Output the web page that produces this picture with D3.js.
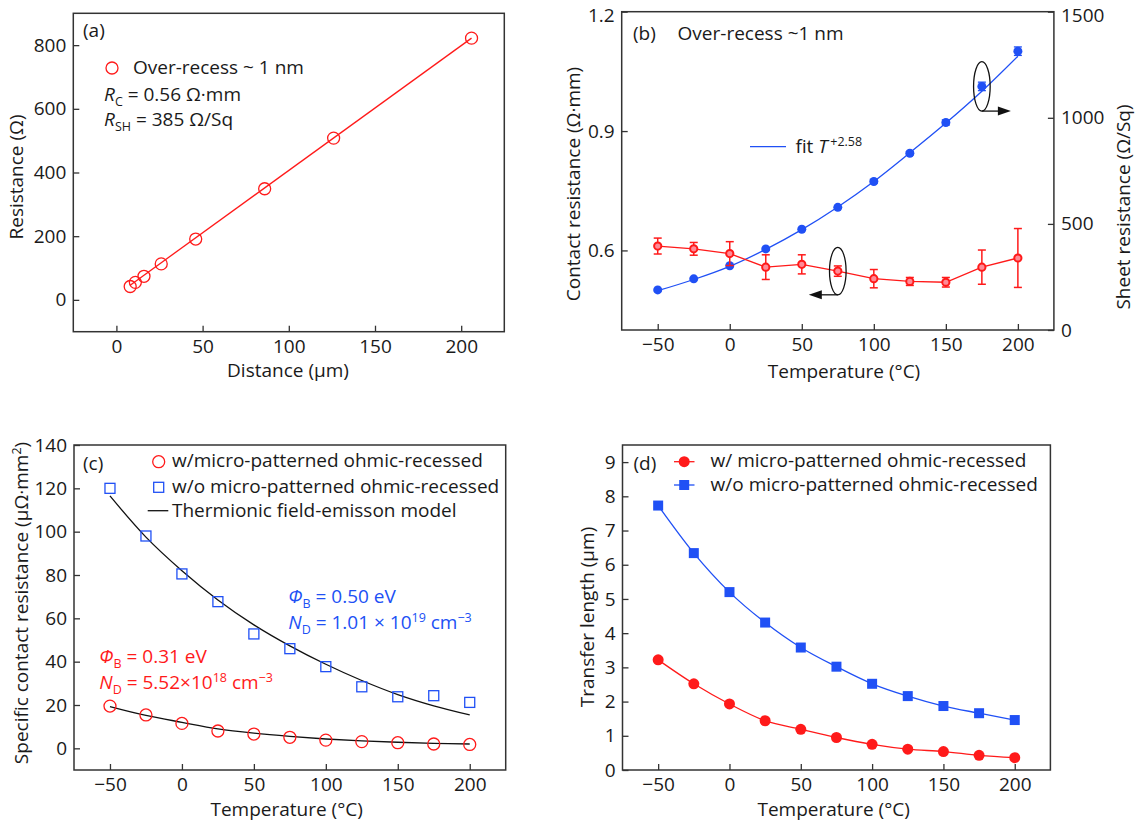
<!DOCTYPE html>
<html>
<head>
<meta charset="utf-8">
<script src="https://cdn.jsdelivr.net/npm/d3@7"></script>
<style>
  body { margin: 0; background: #fff; }
  svg text { font-family: "Open Sans", "Noto Sans", sans-serif; fill: #1a1a1a; }
</style>
</head>
<body>
<svg id="fig" width="1136" height="825"></svg>
<script>
// ---- data ----
var tempC = [-50, -25, 0, 25, 50, 75, 100, 125, 150, 175, 200];

// (a) TLM
var distA = [8, 11, 16, 26, 46, 86, 126, 206];
var resA = [42, 55, 74, 113, 191, 349, 508, 822];
var fitDistA = [8, 206];
var fitResA = [46, 822];

// (b)
var rcB = [0.611, 0.604, 0.592, 0.558, 0.565, 0.548, 0.529, 0.522, 0.520, 0.558, 0.581];
var rcErrB = [0.020, 0.016, 0.030, 0.031, 0.024, 0.013, 0.023, 0.010, 0.012, 0.043, 0.074];
var rshB = [189, 241, 303, 382, 475, 578, 700, 833, 978, 1148, 1314];
var rshErrB = [0, 0, 0, 0, 0, 0, 8, 8, 12, 20, 20];
var rshFitB = [185, 238, 300, 380, 473, 580, 700, 835, 975, 1125, 1290];

// (c)
var rhoW = [19.5, 15.4, 11.5, 8.0, 6.6, 5.1, 3.8, 3.1, 2.6, 2.0, 1.8];
var rhoWo = [120, 98, 80.5, 67.7, 52.8, 46, 37.7, 28.4, 23.8, 24.3, 21.2];
var modelW = [19.3, 15.2, 12, 9, 7, 5.5, 4.3, 3.4, 2.8, 2.3, 2.0];
var modelWo = [116.5, 97.5, 82, 68.5, 57, 47.3, 38.8, 31.3, 24.8, 19.6, 15.4];

// (d)
var ltW = [3.22, 2.52, 1.93, 1.44, 1.19, 0.95, 0.75, 0.61, 0.54, 0.43, 0.36];
var ltWo = [7.73, 6.34, 5.20, 4.31, 3.58, 3.02, 2.52, 2.16, 1.87, 1.66, 1.46];

var tempTicks = [-50, 0, 50, 100, 150, 200];

var RED = "#ff1a1a", BLUE = "#2050f5", INK = "#1a1a1a";
var FS = 19;

var svg = d3.select("#fig");

// rich text: parts = [[string, kind]] kind: "" | "i" | "sub" | "sup"
function rich(g, x, y, parts, color, anchor) {
  var t = g.append("text").attr("x", x).attr("y", y)
    .attr("font-size", FS).attr("text-anchor", anchor || "start");
  if (color) t.style("fill", color);
  var shift = 0, prev = "";
  parts.forEach(function(p) {
    var kind = p[1] || "";
    var target = kind === "sub" ? 4.5 : kind === "sup" ? -7.5 : 0;
    var ts = t.append("tspan").attr("dy", target - shift).text(p[0]);
    if (prev === "i" && kind === "sup") ts.attr("dx", 2.5);
    shift = target;
    prev = kind;
    if (kind === "sub" || kind === "sup") ts.attr("font-size", 12.5);
    if (kind === "i") ts.attr("font-style", "italic");
  });
  return t;
}

function frame(box) {
  svg.append("rect").attr("x", box.l).attr("y", box.t)
    .attr("width", box.r - box.l).attr("height", box.b - box.t)
    .attr("fill", "none").attr("stroke", "#333").attr("stroke-width", 1.5);
}

function styleAxis(g) {
  g.select(".domain").remove();
  g.selectAll(".tick line").attr("stroke", "#333").attr("stroke-width", 1.3);
  g.selectAll(".tick text").attr("font-size", FS).style("fill", INK)
    .attr("font-family", "'Open Sans', sans-serif");
}

function xAxis(box, x, ticks) {
  svg.append("g").attr("transform", "translate(0," + box.b + ")")
    .call(d3.axisBottom(x).tickValues(ticks).tickSizeInner(-6).tickSizeOuter(0).tickPadding(8))
    .call(styleAxis);
}
function yAxis(box, y, ticks, fmt) {
  var ax = d3.axisLeft(y).tickValues(ticks).tickSizeInner(-6).tickSizeOuter(0).tickPadding(7);
  if (fmt) ax.tickFormat(fmt);
  var g = svg.append("g").attr("transform", "translate(" + box.l + ",0)").call(ax).call(styleAxis);
  return g;
}
function yLabel(cx, cy, parts) {
  var g = svg.append("g").attr("transform", "translate(" + cx + "," + cy + ") rotate(-90)");
  rich(g, 0, 0, parts, INK, "middle");
}

// ================= (a) =================
(function() {
  var box = {l: 73.3, r: 504.3, t: 13.3, b: 331.7};
  var x = d3.scaleLinear().domain([-25, 225]).range([box.l, box.r]);
  var y = d3.scaleLinear().domain([-100, 900]).range([box.b, box.t]);
  frame(box);
  xAxis(box, x, [0, 50, 100, 150, 200]);
  yAxis(box, y, [0, 200, 400, 600, 800]);

  svg.append("path").datum(d3.zip(fitDistA, fitResA))
    .attr("d", d3.line().x(function(d) { return x(d[0]); }).y(function(d) { return y(d[1]); }))
    .attr("fill", "none").attr("stroke", RED).attr("stroke-width", 1.3);
  svg.append("g").selectAll("circle").data(d3.zip(distA, resA)).enter().append("circle")
    .attr("cx", function(d) { return x(d[0]); }).attr("cy", function(d) { return y(d[1]); })
    .attr("r", 6).attr("fill", "none").attr("stroke", RED).attr("stroke-width", 1.3);

  rich(svg, 83, 37, [["(a)"]]);
  svg.append("circle").attr("cx", 112).attr("cy", 68).attr("r", 6)
    .attr("fill", "none").attr("stroke", RED).attr("stroke-width", 1.3);
  rich(svg, 133, 74, [["Over-recess ~ 1 nm"]]);
  rich(svg, 104, 101, [["R", "i"], ["C", "sub"], [" = 0.56 Ω·mm"]]);
  rich(svg, 104, 126, [["R", "i"], ["SH", "sub"], [" = 385 Ω/Sq"]]);

  yLabel(23, 177, [["Resistance (Ω)"]]);
  rich(svg, 288, 377, [["Distance  (µm)"]], INK, "middle");
})();

// ================= (b) =================
(function() {
  var box = {l: 621.7, r: 1053.9, t: 11.7, b: 330};
  var x = d3.scaleLinear().domain([-75, 225]).range([box.l, box.r]);
  var yL = d3.scaleLinear().domain([0.4, 1.2]).range([box.b, box.t]);
  var yR = d3.scaleLinear().domain([0, 1500]).range([box.b, box.t]);
  frame(box);
  xAxis(box, x, tempTicks);
  var gl = yAxis(box, yL, [0.6, 0.9, 1.2], d3.format(".1f"));
  var grt = svg.append("g").attr("transform", "translate(" + box.r + ",0)")
    .call(d3.axisRight(yR).tickValues([0, 500, 1000, 1500]).tickFormat(d3.format("d"))
      .tickSizeInner(-6).tickSizeOuter(0).tickPadding(7))
    .call(styleAxis);
  // keep the top labels inside the page
  gl.selectAll(".tick text").filter(function(d) { return d === 1.2; }).attr("dy", "0.5em");
  grt.selectAll(".tick text").filter(function(d) { return d === 1500; }).attr("dy", "0.5em");

  // blue: sheet resistance with fit
  svg.append("path").datum(d3.zip(tempC, rshFitB))
    .attr("d", d3.line().curve(d3.curveCatmullRom).x(function(d) { return x(d[0]); }).y(function(d) { return yR(d[1]); }))
    .attr("fill", "none").attr("stroke", BLUE).attr("stroke-width", 1.3);
  var bd = tempC.map(function(t, i) { return {t: t, v: rshB[i], e: rshErrB[i]}; });
  var gb = svg.append("g").attr("stroke", BLUE).attr("stroke-width", 1.3);
  bd.filter(function(d) { return d.e > 0; }).forEach(function(d) {
    var cx = x(d.t), y0 = yR(d.v - d.e), y1 = yR(d.v + d.e);
    gb.append("line").attr("x1", cx).attr("x2", cx).attr("y1", y0).attr("y2", y1);
    gb.append("line").attr("x1", cx - 4).attr("x2", cx + 4).attr("y1", y0).attr("y2", y0);
    gb.append("line").attr("x1", cx - 4).attr("x2", cx + 4).attr("y1", y1).attr("y2", y1);
  });
  svg.append("g").selectAll("circle").data(bd).enter().append("circle")
    .attr("cx", function(d) { return x(d.t); }).attr("cy", function(d) { return yR(d.v); })
    .attr("r", 4.5).attr("fill", BLUE);

  // red: contact resistance
  svg.append("path").datum(d3.zip(tempC, rcB))
    .attr("d", d3.line().x(function(d) { return x(d[0]); }).y(function(d) { return yL(d[1]); }))
    .attr("fill", "none").attr("stroke", RED).attr("stroke-width", 1.3);
  var rd = tempC.map(function(t, i) { return {t: t, v: rcB[i], e: rcErrB[i]}; });
  var gr = svg.append("g").attr("stroke", RED).attr("stroke-width", 1.5);
  rd.forEach(function(d) {
    var cx = x(d.t), y0 = yL(d.v - d.e), y1 = yL(d.v + d.e);
    gr.append("line").attr("x1", cx).attr("x2", cx).attr("y1", y0).attr("y2", y1);
    gr.append("line").attr("x1", cx - 4).attr("x2", cx + 4).attr("y1", y0).attr("y2", y0);
    gr.append("line").attr("x1", cx - 4).attr("x2", cx + 4).attr("y1", y1).attr("y2", y1);
  });
  svg.append("g").selectAll("circle").data(rd).enter().append("circle")
    .attr("cx", function(d) { return x(d.t); }).attr("cy", function(d) { return yL(d.v); })
    .attr("r", 3.6).attr("fill", "#ff8a96").attr("stroke", RED).attr("stroke-width", 2);

  // ellipses and arrows
  var e1x = x(75), e1y = yL(rcB[5]);
  svg.append("ellipse").attr("cx", e1x).attr("cy", e1y).attr("rx", 8.3).attr("ry", 23.7)
    .attr("fill", "none").attr("stroke", "#111").attr("stroke-width", 1.3);
  var a1y = e1y + 23.7;
  svg.append("line").attr("x1", e1x).attr("x2", e1x - 18).attr("y1", a1y).attr("y2", a1y)
    .attr("stroke", "#111").attr("stroke-width", 1.3);
  svg.append("path").attr("d", "M" + (e1x - 29) + "," + a1y + "L" + (e1x - 16) + "," + (a1y - 4.5) + "L" + (e1x - 16) + "," + (a1y + 4.5) + "Z")
    .attr("fill", "#111");

  var e2x = x(175), e2y = yR(rshB[9]);
  svg.append("ellipse").attr("cx", e2x).attr("cy", e2y).attr("rx", 8.3).attr("ry", 24.7)
    .attr("fill", "none").attr("stroke", "#111").attr("stroke-width", 1.3);
  var a2y = e2y + 24.7;
  svg.append("line").attr("x1", e2x).attr("x2", e2x + 18).attr("y1", a2y).attr("y2", a2y)
    .attr("stroke", "#111").attr("stroke-width", 1.3);
  svg.append("path").attr("d", "M" + (e2x + 29) + "," + a2y + "L" + (e2x + 16) + "," + (a2y - 4.5) + "L" + (e2x + 16) + "," + (a2y + 4.5) + "Z")
    .attr("fill", "#111");

  rich(svg, 633, 40, [["(b)"]]);
  rich(svg, 677.6, 40, [["Over-recess ~1 nm"]]);
  svg.append("line").attr("x1", 750).attr("x2", 786).attr("y1", 146.7).attr("y2", 146.7)
    .attr("stroke", BLUE).attr("stroke-width", 1.3);
  rich(svg, 795.4, 153, [["fit "], ["T", "i"], ["+2.58", "sup"]]);

  yLabel(580, 184, [["Contact resistance (Ω·mm)"]]);
  yLabel(1130, 207, [["Sheet resistance (Ω/Sq)"]]);
  rich(svg, 844, 378, [["Temperature (°C)"]], INK, "middle");
})();

// ================= (c) =================
(function() {
  var box = {l: 74, r: 505.7, t: 445, b: 770};
  var x = d3.scaleLinear().domain([-75, 225]).range([box.l, box.r]);
  var y = d3.scaleLinear().domain([-10, 140]).range([box.b, box.t]);
  frame(box);
  xAxis(box, x, tempTicks);
  yAxis(box, y, d3.range(0, 141, 20));

  var line = d3.line().curve(d3.curveCatmullRom)
    .x(function(d) { return x(d[0]); }).y(function(d) { return y(d[1]); });
  svg.append("path").datum(d3.zip(tempC, modelWo)).attr("d", line)
    .attr("fill", "none").attr("stroke", "#111").attr("stroke-width", 1.3);
  svg.append("path").datum(d3.zip(tempC, modelW)).attr("d", line)
    .attr("fill", "none").attr("stroke", "#111").attr("stroke-width", 1.3);

  svg.append("g").selectAll("rect").data(d3.zip(tempC, rhoWo)).enter().append("rect")
    .attr("x", function(d) { return x(d[0]) - 5; }).attr("y", function(d) { return y(d[1]) - 5; })
    .attr("width", 10).attr("height", 10)
    .attr("fill", "none").attr("stroke", BLUE).attr("stroke-width", 1.3);
  svg.append("g").selectAll("circle").data(d3.zip(tempC, rhoW)).enter().append("circle")
    .attr("cx", function(d) { return x(d[0]); }).attr("cy", function(d) { return y(d[1]); })
    .attr("r", 6).attr("fill", "none").attr("stroke", RED).attr("stroke-width", 1.3);

  rich(svg, 83, 470, [["(c)"]]);
  svg.append("circle").attr("cx", 158.7).attr("cy", 461.7).attr("r", 6)
    .attr("fill", "none").attr("stroke", RED).attr("stroke-width", 1.3);
  rich(svg, 172, 467, [["w/micro-patterned ohmic-recessed"]]);
  svg.append("rect").attr("x", 153.7).attr("y", 482.3).attr("width", 10).attr("height", 10)
    .attr("fill", "none").attr("stroke", BLUE).attr("stroke-width", 1.3);
  rich(svg, 172, 493, [["w/o micro-patterned ohmic-recessed"]]);
  svg.append("line").attr("x1", 147.7).attr("x2", 168.3).attr("y1", 510.7).attr("y2", 510.7)
    .attr("stroke", "#111").attr("stroke-width", 1.3);
  rich(svg, 172, 517, [["Thermionic field-emisson model"]]);

  rich(svg, 288.3, 603.3, [["Φ", "i"], ["B", "sub"], [" = 0.50 eV"]], BLUE);
  rich(svg, 288.3, 629.3, [["N", "i"], ["D", "sub"], [" = 1.01 × 10"], ["19", "sup"], [" cm"], ["−3", "sup"]], BLUE);
  rich(svg, 99.3, 663.3, [["Φ", "i"], ["B", "sub"], [" = 0.31 eV"]], RED);
  rich(svg, 99.3, 689.3, [["N", "i"], ["D", "sub"], [" = 5.52×10"], ["18", "sup"], [" cm"], ["−3", "sup"]], RED);

  yLabel(28, 603, [["Specific contact resistance (µΩ·mm"], ["2", "sup"], [")"]]);
  rich(svg, 286.7, 816, [["Temperature (°C)"]], INK, "middle");
})();

// ================= (d) =================
(function() {
  var box = {l: 622.5, r: 1050.4, t: 445, b: 770};
  var x = d3.scaleLinear().domain([-75, 225]).range([box.l, box.r]);
  var y = d3.scaleLinear().domain([0, 9.5]).range([box.b, box.t]);
  frame(box);
  xAxis(box, x, tempTicks);
  yAxis(box, y, d3.range(0, 10, 1));

  var line = d3.line().curve(d3.curveMonotoneX)
    .x(function(d) { return x(d[0]); }).y(function(d) { return y(d[1]); });
  svg.append("path").datum(d3.zip(tempC, ltWo)).attr("d", line)
    .attr("fill", "none").attr("stroke", BLUE).attr("stroke-width", 1.3);
  svg.append("path").datum(d3.zip(tempC, ltW)).attr("d", line)
    .attr("fill", "none").attr("stroke", RED).attr("stroke-width", 1.3);

  svg.append("g").selectAll("rect").data(d3.zip(tempC, ltWo)).enter().append("rect")
    .attr("x", function(d) { return x(d[0]) - 5; }).attr("y", function(d) { return y(d[1]) - 5; })
    .attr("width", 10).attr("height", 10).attr("fill", BLUE);
  svg.append("g").selectAll("circle").data(d3.zip(tempC, ltW)).enter().append("circle")
    .attr("cx", function(d) { return x(d[0]); }).attr("cy", function(d) { return y(d[1]); })
    .attr("r", 5.5).attr("fill", RED);

  rich(svg, 633.5, 470, [["(d)"]]);
  svg.append("line").attr("x1", 674).attr("x2", 694.5).attr("y1", 461.7).attr("y2", 461.7)
    .attr("stroke", RED).attr("stroke-width", 1.3);
  svg.append("circle").attr("cx", 684.2).attr("cy", 461.7).attr("r", 5.5).attr("fill", RED);
  rich(svg, 710.6, 467, [["w/ micro-patterned ohmic-recessed"]]);
  svg.append("line").attr("x1", 674).attr("x2", 694.5).attr("y1", 485).attr("y2", 485)
    .attr("stroke", BLUE).attr("stroke-width", 1.3);
  svg.append("rect").attr("x", 679.2).attr("y", 480).attr("width", 10).attr("height", 10).attr("fill", BLUE);
  rich(svg, 710.6, 491, [["w/o micro-patterned ohmic-recessed"]]);

  yLabel(594, 617, [["Transfer length (µm)"]]);
  rich(svg, 833.7, 816, [["Temperature (°C)"]], INK, "middle");
})();
</script>
</body>
</html>
